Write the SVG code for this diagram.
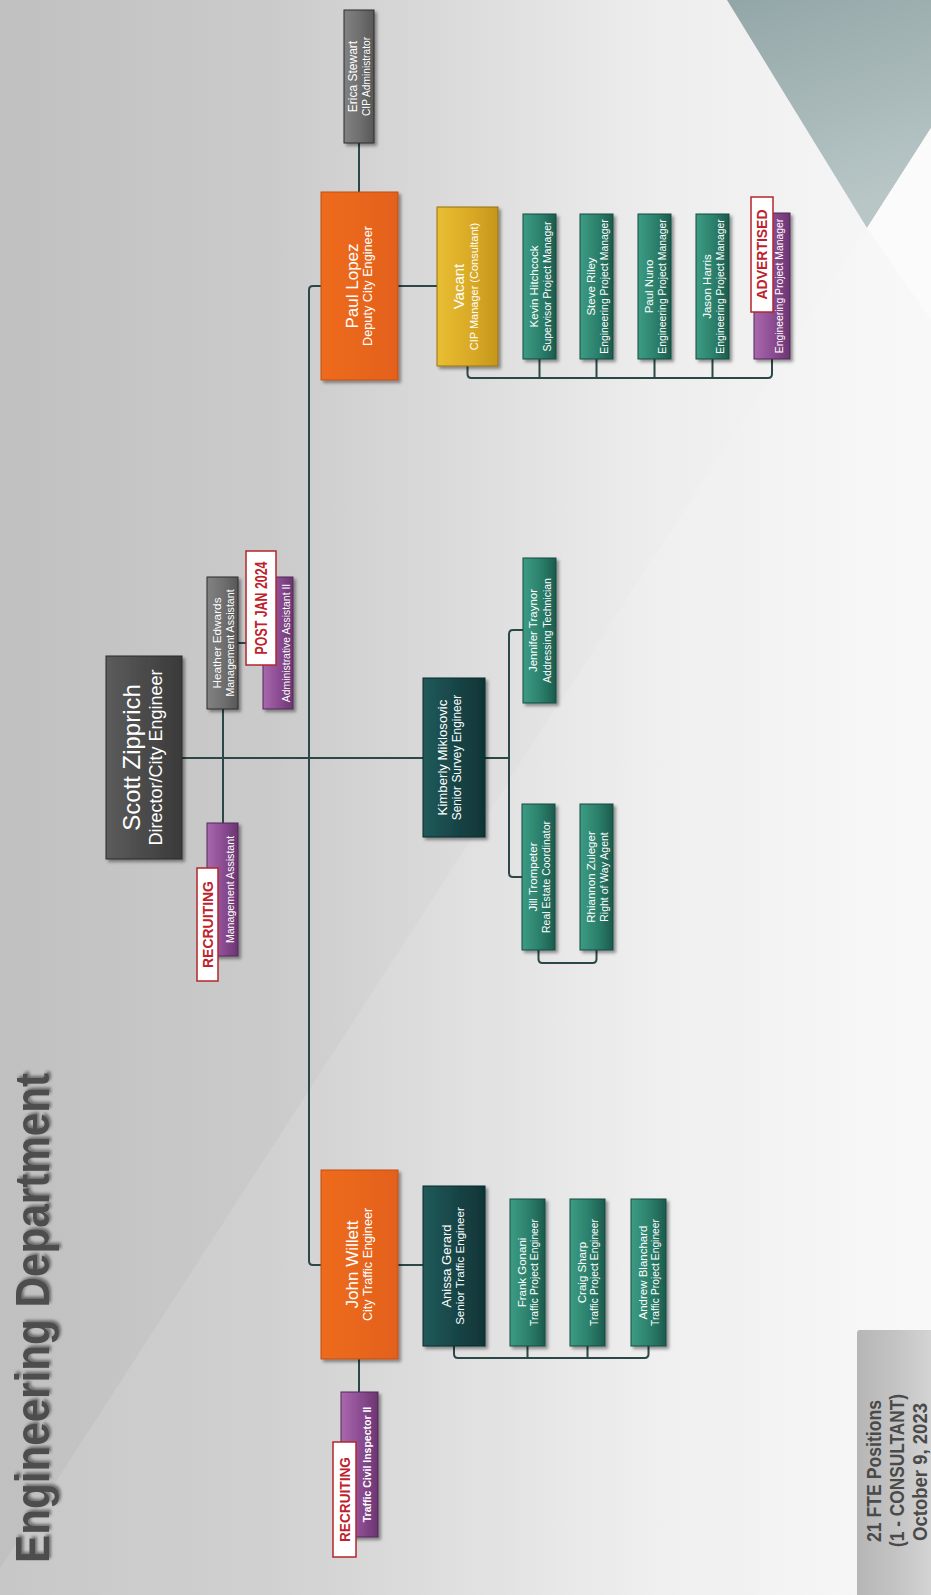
<svg xmlns="http://www.w3.org/2000/svg" width="931" height="1595" viewBox="0 0 931 1595">
<defs>
<linearGradient id="bg" x1="0" y1="0" x2="1" y2="0">
<stop offset="0" stop-color="#c0c0c0"/><stop offset="0.3" stop-color="#cbcbcb"/><stop offset="0.45" stop-color="#d8d8d8"/><stop offset="0.7" stop-color="#ededed"/><stop offset="1" stop-color="#f8f8f8"/>
</linearGradient>
<linearGradient id="tri" x1="0" y1="0" x2="0.3" y2="1">
<stop offset="0" stop-color="#93a6a7"/><stop offset="1" stop-color="#b8c6c6"/>
</linearGradient>
<linearGradient id="foot" x1="0" y1="0" x2="1" y2="0">
<stop offset="0" stop-color="#b6b6b6"/><stop offset="0.5" stop-color="#c4c4c4"/><stop offset="1" stop-color="#d6d6d6"/>
</linearGradient>
<linearGradient id="gTeal" x1="0" y1="0" x2="1" y2="0"><stop offset="0" stop-color="#3d9c84"/><stop offset="0.55" stop-color="#2b7f6a"/><stop offset="1" stop-color="#1c5b4e"/></linearGradient>
<linearGradient id="gDTeal" x1="0" y1="0" x2="1" y2="0"><stop offset="0" stop-color="#215a5a"/><stop offset="0.6" stop-color="#174244"/><stop offset="1" stop-color="#103537"/></linearGradient>
<linearGradient id="gPurple" x1="0" y1="0" x2="1" y2="0"><stop offset="0" stop-color="#aa68ae"/><stop offset="0.55" stop-color="#8a4b90"/><stop offset="1" stop-color="#6b3571"/></linearGradient>
<linearGradient id="gGray" x1="0" y1="0" x2="1" y2="0"><stop offset="0" stop-color="#828282"/><stop offset="0.6" stop-color="#6c6c6c"/><stop offset="1" stop-color="#575757"/></linearGradient>
<linearGradient id="gScott" x1="0" y1="0" x2="1" y2="0"><stop offset="0" stop-color="#5c5c5c"/><stop offset="0.6" stop-color="#474747"/><stop offset="1" stop-color="#3a3a3a"/></linearGradient>
<linearGradient id="gGold" x1="0" y1="0" x2="1" y2="0"><stop offset="0" stop-color="#e9be32"/><stop offset="0.6" stop-color="#d8a825"/><stop offset="1" stop-color="#c4961b"/></linearGradient>
<linearGradient id="gOrange" x1="0" y1="0" x2="1" y2="0"><stop offset="0" stop-color="#ee6b1d"/><stop offset="1" stop-color="#e3611a"/></linearGradient>
<filter id="sh" x="-20%" y="-10%" width="150%" height="130%">
<feDropShadow dx="2.5" dy="2.5" stdDeviation="1.6" flood-color="#000" flood-opacity="0.4"/>
</filter>
<filter id="tsh" x="-10%" y="-10%" width="130%" height="130%">
<feDropShadow dx="2" dy="2" stdDeviation="1.5" flood-color="#000" flood-opacity="0.45"/>
</filter>
<style>
.conn{fill:none;stroke:#2c4747;stroke-width:2;stroke-linejoin:round}
.box{filter:url(#sh);stroke-width:1}
.teal{fill:url(#gTeal);stroke:#174a40}
.dteal{fill:url(#gDTeal);stroke:#0c2a2a}
.purple{fill:url(#gPurple);stroke:#512858}
.gray{fill:url(#gGray);stroke:#2e2e2e}
.scott{fill:url(#gScott);stroke:#2a2a2a}
.gold{fill:url(#gGold);stroke:#96700e}
.orange{fill:url(#gOrange);stroke:#c24f10}
text{font-family:"Liberation Sans",Arial,sans-serif}
.w{fill:#ffffff;text-anchor:middle}
.lr{fill:#ffffff;stroke:#b3262b;stroke-width:1.5}
.lt{fill:#c0222b;font-weight:bold;text-anchor:middle}
.ft{fill:#4a4a4a;font-weight:bold}
</style>
</defs>

<g id="background">
<rect x="0" y="0" width="931" height="1595" fill="url(#bg)"/>
<polygon points="0,1568 931,128 931,1595 0,1595" fill="#ffffff" opacity="0.12"/>
<polygon points="727,0 931,0 931,128 867,228" fill="url(#tri)"/>
<polygon points="867,228 931,128 931,320" fill="#fbfbfb"/>
</g>

<g id="title">
<text transform="translate(49,1563) rotate(-90)" font-size="48" font-weight="bold" fill="#4e4e4e" filter="url(#tsh)" textLength="490" lengthAdjust="spacingAndGlyphs">Engineering Department</text>
</g>

<g id="footer">
<rect x="857" y="1330" width="80" height="270" rx="3" fill="url(#foot)"/>
<text class="ft" transform="translate(881,1542) rotate(-90)" font-size="20" textLength="142" lengthAdjust="spacingAndGlyphs">21 FTE Positions</text>
<text class="ft" transform="translate(904,1547) rotate(-90)" font-size="20" textLength="153" lengthAdjust="spacingAndGlyphs">(1 - CONSULTANT)</text>
<text class="ft" transform="translate(927,1541) rotate(-90)" font-size="20" textLength="138" lengthAdjust="spacingAndGlyphs">October 9, 2023</text>
</g>

<g id="connectors">
<path class="conn" d="M359,143 V192"/>
<path class="conn" d="M321,286 H313 Q309,286 309,290 V1261 Q309,1265 313,1265 H321"/>
<path class="conn" d="M398,286 H437"/>
<path class="conn" d="M467.5,366 V374 Q467.5,378 471.5,378 H768 Q772,378 772,374 V359"/>
<path class="conn" d="M539.5,359 V378 M596.5,359 V378 M654.5,359 V378 M712.5,359 V378"/>
<path class="conn" d="M182,758 H423"/>
<path class="conn" d="M223,709 V823"/>
<path class="conn" d="M238,643 H263"/>
<path class="conn" d="M485,758 H509"/>
<path class="conn" d="M523,630 H513 Q509,630 509,634 V873 Q509,877 513,877 H522"/>
<path class="conn" d="M538.5,950 V959 Q538.5,963 542.5,963 H592.5 Q596.5,963 596.5,959 V950"/>
<path class="conn" d="M398,1265 H423"/>
<path class="conn" d="M359,1359 V1392"/>
<path class="conn" d="M454,1346 V1354 Q454,1358 458,1358 H644.5 Q648.5,1358 648.5,1354 V1346"/>
<path class="conn" d="M527.5,1346 V1358 M587.5,1346 V1358"/>
</g>

<g id="scott">
<rect class="box scott" x="106" y="656" width="76" height="203"/>
<g transform="translate(106,757.5) rotate(-90)">
<text class="w" y="34" font-size="24">Scott Zipprich</text>
<text class="w" y="56" font-size="18">Director/City Engineer</text>
</g>
</g>

<g id="erica">
<rect class="box gray" x="344" y="10" width="30" height="133"/>
<g transform="translate(344,76.5) rotate(-90)">
<text class="w" y="13" font-size="12">Erica Stewart</text>
<text class="w" y="26" font-size="10.2">CIP Administrator</text>
</g>
</g>

<g id="paul-lopez">
<rect class="box orange" x="321" y="192" width="77" height="188"/>
<g transform="translate(321,286) rotate(-90)">
<text class="w" y="37" font-size="17">Paul Lopez</text>
<text class="w" y="51" font-size="12.7">Deputy City Engineer</text>
</g>
</g>

<g id="john-willett">
<rect class="box orange" x="321" y="1170" width="77" height="189"/>
<g transform="translate(321,1264.5) rotate(-90)">
<text class="w" y="37" font-size="17">John Willett</text>
<text class="w" y="51" font-size="12.6">City Traffic Engineer</text>
</g>
</g>

<g id="heather">
<rect class="box gray" x="207" y="577" width="31" height="132"/>
<g transform="translate(207,643) rotate(-90)">
<text class="w" y="13.5" font-size="11.8">Heather Edwards</text>
<text class="w" y="27" font-size="10.6">Management Assistant</text>
</g>
</g>

<g id="admin-assistant">
<rect class="box purple" x="263" y="577" width="30" height="132"/>
<g transform="translate(263,643) rotate(-90)">
<text class="w" y="26.5" font-size="10.4">Administrative Assistant II</text>
</g>
<rect class="lr" x="246" y="551" width="30" height="114"/>
<text class="lt" transform="translate(246,608) rotate(-90)" y="21" font-size="16" textLength="93" lengthAdjust="spacingAndGlyphs">POST JAN 2024</text>
</g>

<g id="management-assistant">
<rect class="box purple" x="207" y="823" width="31" height="133"/>
<g transform="translate(207,889.5) rotate(-90)">
<text class="w" y="27" font-size="10.6">Management Assistant</text>
</g>
<rect class="lr" x="197" y="868" width="21" height="113"/>
<text class="lt" transform="translate(197,924.5) rotate(-90)" y="16" font-size="14" textLength="87" lengthAdjust="spacingAndGlyphs">RECRUITING</text>
</g>

<g id="traffic-civil-inspector">
<rect class="box purple" x="341" y="1392" width="37" height="145"/>
<g transform="translate(341,1464.5) rotate(-90)">
<text class="w" y="29.5" font-size="10.5" font-weight="bold">Traffic Civil Inspector II</text>
</g>
<rect class="lr" x="333" y="1442" width="23" height="115"/>
<text class="lt" transform="translate(333,1499.5) rotate(-90)" y="17" font-size="14" textLength="85" lengthAdjust="spacingAndGlyphs">RECRUITING</text>
</g>

<g id="kimberly">
<rect class="box dteal" x="423" y="678" width="62" height="159"/>
<g transform="translate(423,757.5) rotate(-90)">
<text class="w" y="24" font-size="13.2">Kimberly Miklosovic</text>
<text class="w" y="38" font-size="11.9">Senior Survey Engineer</text>
</g>
</g>

<g id="jennifer">
<rect class="box teal" x="523" y="558" width="33" height="145"/>
<g transform="translate(523,630.5) rotate(-90)">
<text class="w" y="14" font-size="11.5">Jennifer Traynor</text>
<text class="w" y="27.5" font-size="10.5">Addressing Technician</text>
</g>
</g>

<g id="jill">
<rect class="box teal" x="522" y="804" width="33" height="146"/>
<g transform="translate(522,877) rotate(-90)">
<text class="w" y="14.5" font-size="11.5">Jill Trompeter</text>
<text class="w" y="27.5" font-size="10.5">Real Estate Coordinator</text>
</g>
</g>

<g id="rhiannon">
<rect class="box teal" x="580" y="804" width="33" height="146"/>
<g transform="translate(580,877) rotate(-90)">
<text class="w" y="14.5" font-size="11.5">Rhiannon Zuleger</text>
<text class="w" y="27.5" font-size="10.5">Right of Way Agent</text>
</g>
</g>

<g id="vacant">
<rect class="box gold" x="437" y="207" width="61" height="159"/>
<g transform="translate(437,286.5) rotate(-90)">
<text class="w" y="27" font-size="15">Vacant</text>
<text class="w" y="41" font-size="11">CIP Manager (Consultant)</text>
</g>
</g>

<g id="kevin">
<rect class="box teal" x="523" y="214" width="33" height="145"/>
<g transform="translate(523,286.5) rotate(-90)">
<text class="w" y="14.5" font-size="11.5">Kevin Hitchcock</text>
<text class="w" y="27.5" font-size="10.5">Supervisor Project Manager</text>
</g>
</g>

<g id="steve">
<rect class="box teal" x="580" y="214" width="33" height="145"/>
<g transform="translate(580,286.5) rotate(-90)">
<text class="w" y="14.5" font-size="11.5">Steve Riley</text>
<text class="w" y="27.5" font-size="10.4">Engineering Project Manager</text>
</g>
</g>

<g id="paul-nuno">
<rect class="box teal" x="638" y="214" width="33" height="145"/>
<g transform="translate(638,286.5) rotate(-90)">
<text class="w" y="14.5" font-size="11.5">Paul Nuno</text>
<text class="w" y="27.5" font-size="10.4">Engineering Project Manager</text>
</g>
</g>

<g id="jason">
<rect class="box teal" x="696" y="214" width="33" height="145"/>
<g transform="translate(696,286.5) rotate(-90)">
<text class="w" y="14.5" font-size="11.5">Jason Harris</text>
<text class="w" y="27.5" font-size="10.4">Engineering Project Manager</text>
</g>
</g>

<g id="engineering-pm">
<rect class="box purple" x="754" y="213" width="36" height="146"/>
<g transform="translate(754,286) rotate(-90)">
<text class="w" y="28.5" font-size="10.4">Engineering Project Manager</text>
</g>
<rect class="lr" x="751" y="197" width="22" height="115"/>
<text class="lt" transform="translate(751,254.5) rotate(-90)" y="16" font-size="14" textLength="90" lengthAdjust="spacingAndGlyphs">ADVERTISED</text>
</g>

<g id="anissa">
<rect class="box dteal" x="423" y="1186" width="62" height="160"/>
<g transform="translate(423,1266) rotate(-90)">
<text class="w" y="27.5" font-size="13">Anissa Gerard</text>
<text class="w" y="41" font-size="11.6">Senior Traffic Engineer</text>
</g>
</g>

<g id="frank">
<rect class="box teal" x="510" y="1199" width="35" height="147"/>
<g transform="translate(510,1272.5) rotate(-90)">
<text class="w" y="15.5" font-size="11.5">Frank Gonani</text>
<text class="w" y="28" font-size="10.3">Traffic Project Engineer</text>
</g>
</g>

<g id="craig">
<rect class="box teal" x="570" y="1199" width="35" height="147"/>
<g transform="translate(570,1272.5) rotate(-90)">
<text class="w" y="15.5" font-size="11.5">Craig Sharp</text>
<text class="w" y="28" font-size="10.3">Traffic Project Engineer</text>
</g>
</g>

<g id="andrew">
<rect class="box teal" x="631" y="1199" width="35" height="147"/>
<g transform="translate(631,1272.5) rotate(-90)">
<text class="w" y="15.5" font-size="11.5">Andrew Blanchard</text>
<text class="w" y="28" font-size="10.3">Traffic Project Engineer</text>
</g>
</g>
</svg>
